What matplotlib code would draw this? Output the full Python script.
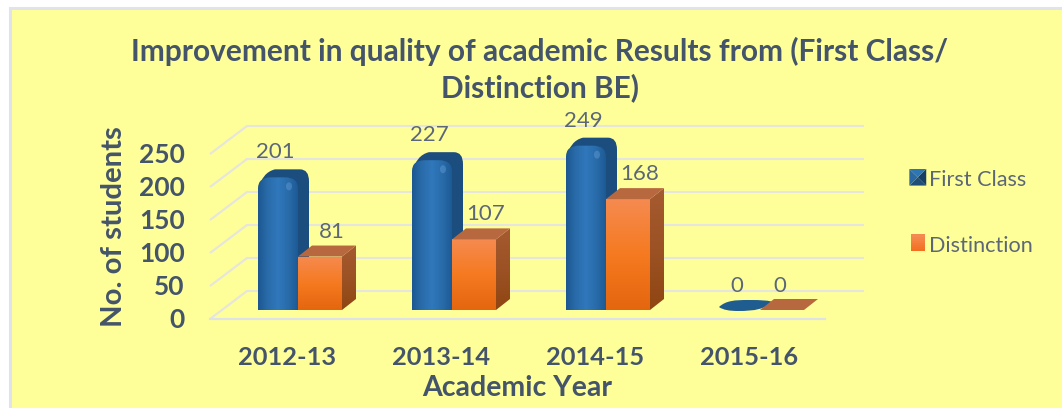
import matplotlib
matplotlib.use("Agg")
import matplotlib.pyplot as plt
import numpy as np
from matplotlib.colors import LinearSegmentedColormap
from matplotlib.legend_handler import HandlerBase
from matplotlib.patches import Patch, PathPatch, Polygon, Rectangle, Ellipse
from matplotlib.path import Path

years = ["2012-13", "2013-14", "2014-15", "2015-16"]
first_class = [201, 227, 249, 0]
distinction = [81, 107, 168, 0]
y_ticks = [0, 50, 100, 150, 200, 250]

W, H = 1062, 408
PX_X = 154.0   # pixels per category
PX_Y = 0.66    # pixels per student
X0, Y0 = 298.0, 310.0   # pixel of category 0 / value 0

plt.rcParams["font.family"] = ["Lato", "DejaVu Sans"]
DARK = "#44546a"
SOFT = "#5b6779"
GRID = "#e6e6dc"

fig = plt.figure(figsize=(W / 100, H / 100), dpi=100, facecolor="white")
fig.add_artist(Rectangle((9.5 / W, -0.05), 1.1, (H - 7.5) / H + 0.05, transform=fig.transFigure,
                         facecolor="#ffff99", edgecolor="#e0e3ea", linewidth=2.2, zorder=-5))

left, right, bottom, top = 205, 870, 324, 118
ax = fig.add_axes([left / W, 1 - bottom / H, (right - left) / W, (bottom - top) / H])
ax.patch.set_visible(False)
xlim = ((left - X0) / PX_X, (right - X0) / PX_X)
ylim = ((Y0 - bottom) / PX_Y, (Y0 - top) / PX_Y)
for s in ax.spines.values():
    s.set_visible(False)


def dx(px):
    return px / PX_X


def dy(px):
    return px / PX_Y


def gradient(patch, colors, vertical, extent, z):
    cmap = LinearSegmentedColormap.from_list("g", colors)
    g = np.linspace(0, 1, 128)
    g = g.reshape(-1, 1) if vertical else g.reshape(1, -1)
    im = ax.imshow(g, extent=extent, origin="lower", aspect="auto", cmap=cmap, zorder=z)
    patch.set(facecolor="none", edgecolor="none", zorder=z)
    ax.add_patch(patch)
    im.set_clip_path(patch)


def rounded_top(x0, x1, y0, y1, rx, ry):
    verts = [(x0, y0), (x0, y1 - ry), (x0, y1), (x0 + rx, y1), (x1 - rx, y1), (x1, y1),
             (x1, y1 - ry), (x1, y0), (x0, y0)]
    codes = [Path.MOVETO, Path.LINETO, Path.CURVE3, Path.CURVE3, Path.LINETO, Path.CURVE3,
             Path.CURVE3, Path.LINETO, Path.CLOSEPOLY]
    return Path(verts, codes)


def silhouette(x0, x1, v, bx, by):
    # outline of the whole rounded column seen from the front left
    verts = [(x0, 0), (x0, v - dy(13)), (x0 + dx(4), v + by - dy(3)), (x0 + dx(17), v + by),
             (x1 + bx - dx(9), v + by), (x1 + bx, v + by), (x1 + bx, v + by - dy(12)),
             (x1 + bx, by), (x1, 0), (x0, 0)]
    codes = [Path.MOVETO, Path.LINETO, Path.CURVE3, Path.CURVE3, Path.LINETO, Path.CURVE3,
             Path.CURVE3, Path.LINETO, Path.LINETO, Path.CLOSEPOLY]
    return Path(verts, codes)


def flat_top(x0):
    # blue column of height zero: only its lens shaped top is left
    pts = [(-1, 3), (6, 9.5), (15, 10), (28, 10), (42, 10), (50, 9.5), (52, 8),
           (45, 1), (35, -1), (18, -1), (10, -1), (3, 0), (-1, 3), (-1, 3)]
    codes = [Path.MOVETO] + [Path.CURVE4] * 12 + [Path.CLOSEPOLY]
    return Path([(x0 + dx(a), dy(b)) for a, b in pts], codes)


# gridlines: front edge, diagonal, back wall
for v in y_ticks:
    yf = v + dy(-9)
    yb = v + dy(19)
    xf, xb = dx(210 - X0), dx(247 - X0)
    ax.plot([xf, xb], [yf, yb], color=GRID, lw=1.6, zorder=1, solid_capstyle="butt")
    if v == 0:
        ax.plot([xf, dx(825 - X0)], [yf, yf], color="#dfe3e8", lw=1.6, zorder=1)
    ax.plot([xb, dx(863 - X0)], [yb, yb], color=GRID, lw=1.6, zorder=1)

bw_blue, bw_orange = dx(40), dx(44)
ox, oy = dx(14), dy(11)
bx, by = dx(11), dy(8)

for i, (fc, di) in enumerate(zip(first_class, distinction)):
    z = 3 + i * 10
    xb0, xb1 = i - bw_blue, i
    xo0, xo1 = i, i + bw_orange

    if fc > 0:
        ax.add_patch(PathPatch(silhouette(xb0, xb1, fc, bx, by), facecolor="#1b4d7e",
                               edgecolor="none", zorder=z))
        front = PathPatch(rounded_top(xb0, xb1, 0, fc, dx(13), dy(11)))
        gradient(front, ["#1c5790", "#2a6cab", "#2f78bb", "#2a6cab", "#1d5a95"], False,
                 (xb0, xb1, 0, fc), z + 0.2)
        ax.add_patch(Ellipse((xb1 - dx(9), fc - dy(9)), dx(6), dy(8), facecolor="#6aa5dc",
                             edgecolor="none", alpha=0.4, zorder=z + 0.3))
    else:
        ax.add_patch(PathPatch(flat_top(xb0), facecolor="#1f5c8f", edgecolor="none", zorder=z))

    if di > 0:
        side = Polygon([(xo1, 0), (xo1 + ox, oy), (xo1 + ox, di + oy), (xo1, di)], closed=True)
        gradient(side, ["#8f4612", "#9c5224", "#a65a30"], True, (xo1, xo1 + ox, 0, di + oy), z + 1)
        face = Rectangle((xo0, 0), bw_orange, di)
        gradient(face, ["#e4660f", "#f67a20", "#f58a50"], True, (xo0, xo1, 0, di), z + 1.2)
    ax.add_patch(Polygon([(xo0, di), (xo1, di), (xo1 + ox, di + oy), (xo0 + ox, di + oy)],
                         closed=True, facecolor="#b7683f", edgecolor="none", zorder=z + 1.3))

    ax.annotate(str(fc), (xb0 + bw_blue / 2, fc), xytext=(-3, 25 if fc else 24), textcoords="offset pixels",
                ha="center", va="center", fontsize=16, color=SOFT, zorder=60)
    ax.annotate(str(di), (xo0 + bw_orange / 2, di), xytext=(12 if di else -2, 25 if di else 24),
                textcoords="offset pixels", ha="center", va="center", fontsize=16, color=SOFT, zorder=60)

ax.set_xlim(xlim)
ax.set_ylim(ylim)

ax.set_xticks(np.arange(len(years)) + dx(-11), years)
ax.set_yticks(np.array(y_ticks) + dy(-8), [str(v) for v in y_ticks])
ax.tick_params(axis="both", length=0, colors=DARK)
ax.tick_params(axis="x", pad=16, labelsize=18.3)
ax.tick_params(axis="y", pad=14.5, labelsize=19)
for t in ax.get_xticklabels() + ax.get_yticklabels():
    t.set_fontweight("bold")

fig.text(517 / W, 1 - 388 / H, "Academic Year", ha="center", va="center", fontsize=20.5,
         fontweight="bold", color=DARK)
fig.text(114 / W, 1 - 227 / H, "No. of students", ha="center", va="center", rotation=90,
         fontsize=21.2, fontweight="bold", color=DARK)
fig.text(540 / W, 1 - 69.5 / H, "Improvement in quality of academic Results from (First Class/\nDistinction BE)",
         ha="center", va="center", fontsize=21.5, fontweight="bold", color=DARK, linespacing=1.27)


class Bevel(HandlerBase):
    def create_artists(self, legend, orig, x, y, w, h, fs, trans):
        cx, cy = x + w / 2, y + h / 2
        c = [(x, y), (x + w, y), (x + w, y + h), (x, y + h)]
        cols = ["#1f4e79", "#173e63", "#2e75b6", "#2a68a3"]
        out = []
        for k, col in enumerate(cols):
            out.append(Polygon([c[k], c[(k + 1) % 4], (cx, cy)], closed=True, facecolor=col,
                               edgecolor="none", transform=trans))
        return out


class Grad(HandlerBase):
    def create_artists(self, legend, orig, x, y, w, h, fs, trans):
        n = 8
        cmap = LinearSegmentedColormap.from_list("o", ["#f4701f", "#f58a50"])
        return [Rectangle((x + 1, y + h * k / n), w - 2, h / n + 0.2, facecolor=cmap(k / (n - 1)),
                          edgecolor="none", transform=trans) for k in range(n)]


blue_h = Patch(label="First Class")
orange_h = Patch(label="Distinction")
leg = fig.legend(handles=[blue_h, orange_h], handler_map={blue_h: Bevel(), orange_h: Grad()},
                 loc="upper left", bbox_to_anchor=(905 / W, 1 - 166 / H), frameon=False, fontsize=15.6,
                 labelspacing=2.1, handlelength=0.78, handleheight=0.8, handletextpad=0.15,
                 labelcolor=SOFT, borderpad=0.2, borderaxespad=0)

fig.savefig("out.png", dpi=100)
